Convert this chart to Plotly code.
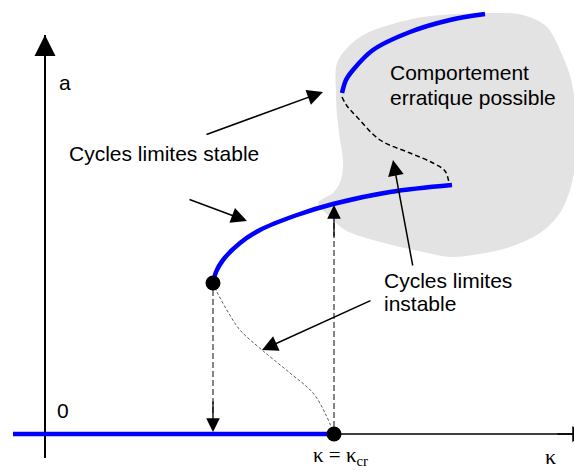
import plotly.graph_objects as go

# Coordinate frame: kappa (horizontal) and a (vertical), origin at the axes crossing
# --- curves ---
base_k = [-32, 289]                      # stable zero branch (a = 0)
base_a = [0, 0]
mid_k = [168, 171, 178, 195, 215, 252, 288, 345, 407]     # stable limit cycles (middle)
mid_a = [151, 162, 174, 191, 204, 219, 230, 242, 249]
low_k = [168, 172, 183, 195, 217, 245, 268, 281, 289]     # unstable limit cycles (lower)
low_a = [151, 142, 122, 104, 84, 61, 41, 19, 0]
top_k = [297, 301, 308, 328, 365, 405, 440]               # stable limit cycles (upper)
top_a = [341, 354, 364, 384, 402, 414, 420]
top_uk = [297, 302, 312, 335, 365, 388, 400, 404]         # unstable limit cycles (upper)
top_ua = [337, 328, 317, 294, 281, 271, 263, 251]
blob_k = [442, 478, 502, 518, 527, 532, 531, 525, 515, 495, 462, 428, 405, 378, 328,
          300, 285, 273, 288, 296, 298, 295, 292, 291, 292, 305, 322, 372, 442]
blob_a = [421, 419, 407, 377, 351, 301, 274, 244, 221, 201, 186, 179, 177, 182, 194,
          204, 217, 231, 241, 254, 274, 294, 319, 339, 371, 389, 401, 416, 421]
# --- points ---
dot_k = [168, 289]
dot_a = [151, 0]
# --- vertical transitions (jumps) ---
jump_down_k = [168, 168]
jump_down_a = [144, 18]
jump_up_k = [289, 289]
jump_up_a = [7, 212]
# --- annotation arrows (tail -> tip) ---
arrow_tail_k = [160, 143, 368, 327]
arrow_tail_a = [299, 235, 167, 134]
arrow_tip_k = [278, 202, 348, 217]
arrow_tip_a = [342, 213, 274, 84]
# --- axes ---
axis_v_k = [0, 0]
axis_v_a = [-24, 399]
axis_h_k = [289, 531]
axis_h_a = [0, 0]
# --- labels ---
label_texts = ["a", "0", "Cycles limites stable", "Comportement", "erratique possible",
               "Cycles limites", "instable"]
label_k = [12, 10, 22, 343, 343, 337, 337]
label_a = [352, 24, 281, 362, 337, 154, 131]

fig = go.Figure()
fig.add_trace(go.Scatter(x=blob_k, y=blob_a, mode="lines", fill="toself",
                         fillcolor="#e3e3e3", line=dict(width=0, shape="spline", smoothing=0.9),
                         hoverinfo="skip"))
fig.add_trace(go.Scatter(x=jump_down_k, y=jump_down_a, mode="lines",
                         line=dict(color="#444444", width=1.3, dash="6px,3px")))
fig.add_trace(go.Scatter(x=jump_up_k, y=jump_up_a, mode="lines",
                         line=dict(color="#444444", width=1.3, dash="6px,3px")))
fig.add_trace(go.Scatter(x=low_k, y=low_a, mode="lines",
                         line=dict(color="#333333", width=0.8, dash="3px,2px", shape="spline")))
fig.add_trace(go.Scatter(x=top_uk, y=top_ua, mode="lines",
                         line=dict(color="black", width=1.5, dash="5px,3px", shape="spline")))
fig.add_trace(go.Scatter(x=axis_h_k, y=axis_h_a, mode="lines", line=dict(color="black", width=1.5)))
fig.add_trace(go.Scatter(x=axis_v_k, y=axis_v_a, mode="lines", line=dict(color="black", width=2)))
fig.add_trace(go.Scatter(x=base_k, y=base_a, mode="lines", line=dict(color="#0000ff", width=4.5)))
fig.add_trace(go.Scatter(x=mid_k, y=mid_a, mode="lines",
                         line=dict(color="#0000ff", width=4.5, shape="spline")))
fig.add_trace(go.Scatter(x=top_k, y=top_a, mode="lines",
                         line=dict(color="#0000ff", width=4.5, shape="spline")))
fig.add_trace(go.Scatter(x=dot_k, y=dot_a, mode="markers",
                         marker=dict(color="black", size=15)))

def arrow(xt, yt, xh, yh, w=1.5):
    fig.add_annotation(x=xh, y=yh, ax=xt, ay=yt, xref="x", yref="y", axref="x", ayref="y",
                       showarrow=True, arrowhead=2, arrowsize=2.1, arrowwidth=w,
                       arrowcolor="black", text="")

for xt, yt, xh, yh in zip(arrow_tail_k, arrow_tail_a, arrow_tip_k, arrow_tip_a):
    arrow(xt, yt, xh, yh)
# jump arrow heads
arrow(jump_down_k[1], jump_down_a[1] + 16, jump_down_k[1], jump_down_a[1] - 16, 1.3)
arrow(jump_up_k[1], jump_up_a[1] - 16, jump_up_k[1], jump_up_a[1] + 17, 1.3)
# axis arrow heads
arrow(axis_v_k[1], axis_v_a[1] - 20, axis_v_k[1], axis_v_a[1], 2)
arrow(axis_h_k[1] - 20, axis_h_a[1], axis_h_k[1] + 12, axis_h_a[1], 1.5)

for t, xk, ya in zip(label_texts, label_k, label_a):
    fig.add_annotation(x=xk, y=ya, text=t, showarrow=False, xanchor="left", yanchor="middle",
                       font=dict(family="Arial, Liberation Sans, sans-serif", size=21, color="black"))

fig.add_annotation(x=295, y=-22, text="κ = κ<sub>cr</sub>", showarrow=False,
                   xanchor="center", yanchor="middle",
                   font=dict(family="Liberation Serif, Times New Roman, serif", size=21, color="black"))
fig.add_annotation(x=505, y=-22, text="κ", showarrow=False, xanchor="center", yanchor="middle",
                   font=dict(family="Liberation Serif, Times New Roman, serif", size=22, color="black"))

fig.update_layout(width=574, height=473, margin=dict(l=0, r=0, t=0, b=0),
                  paper_bgcolor="white", plot_bgcolor="white", showlegend=False,
                  xaxis=dict(range=[-45, 529], visible=False, fixedrange=True),
                  yaxis=dict(range=[-39, 434], visible=False, fixedrange=True))
fig.write_html("out.html", config={"displayModeBar": False},
               post_script="document.body.style.margin='0';document.body.style.overflow='hidden';")
